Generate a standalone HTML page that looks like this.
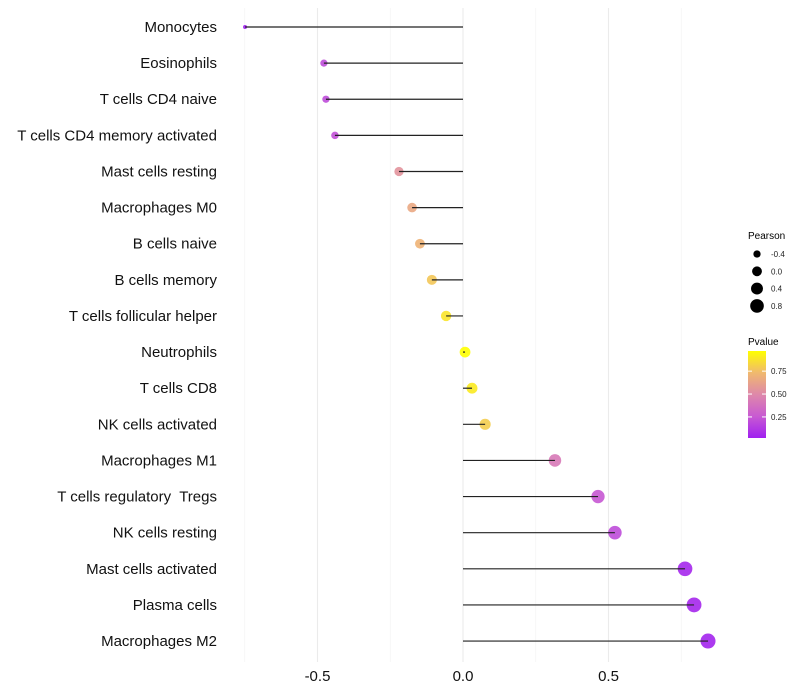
<!DOCTYPE html>
<html><head><meta charset="utf-8"><style>
body{margin:0;background:#fff;}
svg{display:block;font-family:"Liberation Sans",Arial,sans-serif;}
text{white-space:pre;}
</style></head><body>
<svg id="chart" width="800" height="700" xmlns="http://www.w3.org/2000/svg"></svg>
<script>
const categories=["Monocytes","Eosinophils","T cells CD4 naive","T cells CD4 memory activated","Mast cells resting","Macrophages M0","B cells naive","B cells memory","T cells follicular helper","Neutrophils","T cells CD8","NK cells activated","Macrophages M1","T cells regulatory  Tregs","NK cells resting","Mast cells activated","Plasma cells","Macrophages M2"];
const pearson=[-0.749,-0.478,-0.471,-0.44,-0.22,-0.175,-0.148,-0.107,-0.058,0.007,0.031,0.076,0.316,0.464,0.522,0.763,0.794,0.842];
const pvalue=[0.02,0.2,0.2,0.22,0.55,0.65,0.7,0.78,0.88,0.97,0.9,0.8,0.42,0.25,0.2,0.05,0.05,0.04];
const xTicks=[-0.5,0,0.5];
const xTickLabels=["-0.5","0.0","0.5"];
const xMinor=[-0.75,-0.25,0.25,0.75];
const sizeLegend=[-0.4,0.0,0.4,0.8];
const sizeLegendLabels=["-0.4","0.0","0.4","0.8"];
const pLegend=[0.25,0.5,0.75];
const pLegendLabels=["0.25","0.50","0.75"];

const NS="http://www.w3.org/2000/svg";
const svg=document.getElementById('chart');
function el(t,a,p){const e=document.createElementNS(NS,t);for(const k in a)e.setAttribute(k,a[k]);(p||svg).appendChild(e);return e;}
const x=v=>463+v*291;
const y=i=>27+i*36.12;
const r=v=>Math.sqrt(Math.max(1,28.7+32.9*v));
function lerp(a,b,t){return a.map((c,i)=>Math.round(c+(b[i]-c)*t));}
const stops=[[160,32,240],[200,90,210],[222,136,170],[240,185,110],[255,255,0]];
function col(p){const lo=0.02,hi=0.97;let t=Math.min(1,Math.max(0,(p-lo)/(hi-lo)))*(stops.length-1);const i=Math.min(stops.length-2,Math.floor(t));const c=lerp(stops[i],stops[i+1],t-i);return `rgb(${c[0]},${c[1]},${c[2]})`;}

const grid=el('g',{});


xMinor.forEach(v=>el('line',{x1:x(v),x2:x(v),y1:8,y2:662,stroke:'#f3f3f3','stroke-width':0.6},grid));
xTicks.forEach(v=>el('line',{x1:x(v),x2:x(v),y1:8,y2:662,stroke:'#ebebeb','stroke-width':1.1},grid));

categories.forEach((c,i)=>{
  const t=el('text',{x:217,y:y(i)+5,'text-anchor':'end','font-size':15,fill:'#111'});
  t.textContent=c;
  
  
  const pt=el('circle',{cx:x(pearson[i]),cy:y(i),r:r(pearson[i]),fill:col(pvalue[i]),'fill-opacity':0.9});
  
  
  const s=el('line',{x1:x(0),x2:x(pearson[i]),y1:y(i),y2:y(i),stroke:'#222','stroke-width':1.2});
  
  
});
xTicks.forEach((v,i)=>{
  const t=el('text',{x:x(v),y:681,'text-anchor':'middle','font-size':15,fill:'#111'});
  t.textContent=xTickLabels[i];
  
  
});

const lt=el('text',{x:748,y:239,'font-size':10,fill:'#000'});lt.textContent='Pearson';


sizeLegend.forEach((v,i)=>{
  const cy=254+i*17.3;
  const c=el('circle',{cx:757,cy:cy,r:r(v)*0.92,fill:'#000'});
  
  
  const t=el('text',{x:771,y:cy+3,'font-size':8,fill:'#222'});t.textContent=sizeLegendLabels[i];
  
  
});
const pt2=el('text',{x:748,y:345,'font-size':10,fill:'#000'});pt2.textContent='Pvalue';


const defs=el('defs',{});
const g=el('linearGradient',{id:'pg',x1:0,y1:1,x2:0,y2:0},defs);
stops.forEach((s,i)=>el('stop',{offset:(i/(stops.length-1)),'stop-color':`rgb(${s.join(',')})`},g));
const bar=el('rect',{x:748,y:351,width:18,height:87,fill:'url(#pg)'});


const py=p=>438-(p-0.02)/(0.97-0.02)*87;
pLegend.forEach((v,i)=>{
  el('line',{x1:748,x2:752,y1:py(v),y2:py(v),stroke:'#fff'});
  el('line',{x1:762,x2:766,y1:py(v),y2:py(v),stroke:'#fff'});
  const t=el('text',{x:771,y:py(v)+3,'font-size':8,fill:'#222'});t.textContent=pLegendLabels[i];
  
  
});
</script>
</body></html>
